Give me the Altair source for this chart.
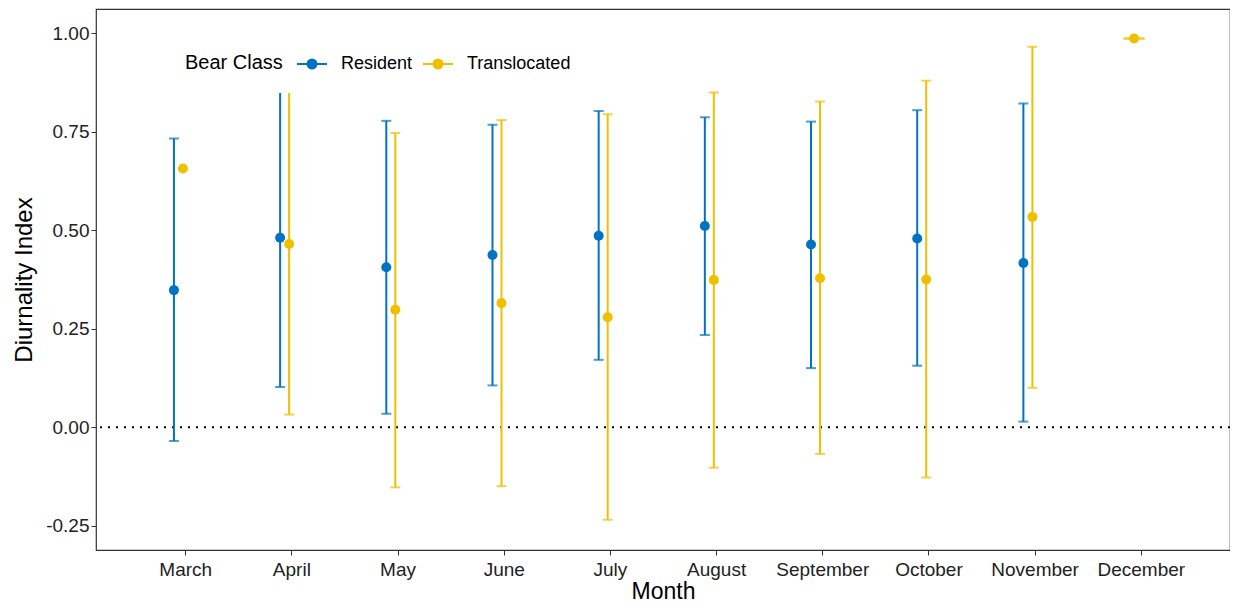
import altair as alt
import pandas as pd

months = ["March", "April", "May", "June", "July", "August",
          "September", "October", "November", "December"]

res_months = months[:9]
res_mean = [0.348, 0.481, 0.406, 0.437, 0.486, 0.511, 0.464, 0.479, 0.417]
res_lo = [-0.035, 0.102, 0.034, 0.106, 0.171, 0.234, 0.150, 0.156, 0.014]
res_hi = [0.733, 0.960, 0.778, 0.768, 0.803, 0.787, 0.776, 0.805, 0.822]

tr_months = months
tr_mean = [0.657, 0.465, 0.298, 0.315, 0.279, 0.374, 0.378, 0.375, 0.534, 0.987]
tr_lo = [None, 0.032, -0.153, -0.150, -0.235, -0.103, -0.068, -0.128, 0.100, 0.987]
tr_hi = [None, 0.960, 0.747, 0.780, 0.795, 0.850, 0.827, 0.880, 0.966, 0.987]

classes = ["Resident", "Translocated"]
colors = ["#0073C2", "#EFC000"]

rows = []
for m, v, lo, hi in zip(res_months, res_mean, res_lo, res_hi):
    rows.append(dict(month=m, cls="Resident", mean=v, lo=lo, hi=hi))
for m, v, lo, hi in zip(tr_months, tr_mean, tr_lo, tr_hi):
    rows.append(dict(month=m, cls="Translocated", mean=v, lo=lo, hi=hi))
df = pd.DataFrame(rows)
counts = df.groupby("month")["cls"].transform("count")
df["dodge"] = [c if n > 1 else "Center" for c, n in zip(df["cls"], counts)]
err = df.dropna(subset=["lo"])

FONT = "Liberation Sans"
xscale = alt.Scale(type="point", domain=months, padding=0.84)
yscale = alt.Scale(domain=[-0.312, 1.062], nice=False, zero=False)
off_scale = alt.Scale(domain=["Resident", "Center", "Translocated"], range=[-13.5, 0, 13.5])
cscale = alt.Scale(domain=classes, range=colors)

X = alt.X("month:N", scale=xscale, sort=months,
          axis=alt.Axis(title="Month", labelAngle=0, labelFontSize=19, titleFontSize=23,
                        titleFontWeight="normal", labelColor="#222", titleColor="#000",
                        domain=False, tickColor="#333", tickSize=5, labelPadding=5,
                        titlePadding=1, labelFont=FONT, titleFont=FONT))
XO = alt.XOffset("dodge:N", scale=off_scale)

def circ(r):
    return f"M{-r},0A{r},{r},0,1,1,{r},0A{r},{r},0,1,1,{-r},0"

sym_path = "M-1,0L1,0" + circ(0.3) + circ(0.1667) + circ(0.0667)

leg = alt.Legend(
    title="Bear Class", orient="none", direction="horizontal",
    titleOrient="left", legendX=69, legendY=19, padding=20,
    fillColor="white", zindex=1,
    titleFontSize=20, titleFontWeight="normal", titleColor="#000",
    titleFont=FONT, labelFont=FONT, labelFontSize=18, labelColor="#000",
    titlePadding=13, labelOffset=13, columnPadding=6,
    titleAnchor="end", titleBaseline="bottom",
    symbolType=sym_path, symbolSize=900, symbolStrokeWidth=2,
)

zero = alt.Chart(pd.DataFrame({"z": [0]})).mark_rule(
    color="black", strokeDash=[2, 6], strokeWidth=2
).encode(y=alt.Y("z:Q", scale=yscale))

bars = alt.Chart(err).mark_rule(strokeWidth=2).encode(
    x=X, xOffset=XO,
    y=alt.Y("lo:Q", scale=yscale), y2="hi:Q",
    color=alt.Color("cls:N", scale=cscale, legend=leg),
)

caps_lo = alt.Chart(err).mark_tick(thickness=2).encode(
    x=X, xOffset=XO,
    y=alt.Y("lo:Q", scale=yscale),
    color=alt.Color("cls:N", scale=cscale, legend=None),
    size=alt.condition(alt.datum.dodge == "Center", alt.value(21), alt.value(10)),
)
caps_hi = alt.Chart(err).mark_tick(thickness=2).encode(
    x=X, xOffset=XO,
    y=alt.Y("hi:Q", scale=yscale),
    color=alt.Color("cls:N", scale=cscale, legend=None),
    size=alt.condition(alt.datum.dodge == "Center", alt.value(21), alt.value(10)),
)

points = alt.Chart(df).mark_point(filled=True, size=100, opacity=1).encode(
    x=X, xOffset=XO,
    y=alt.Y("mean:Q", scale=yscale,
            axis=alt.Axis(title="Diurnality Index", values=[-0.25, 0, 0.25, 0.5, 0.75, 1.0],
                          labelExpr="replace(format(datum.value, '.2f'), '\u2212', '-')",
                          labelFontSize=19, titleFontSize=24, titleFontWeight="normal",
                          labelColor="#222", titleColor="#000", domain=False, grid=False,
                          tickColor="#333", tickSize=5, labelPadding=2, titlePadding=9,
                          labelFont=FONT, titleFont=FONT)),
    color=alt.Color("cls:N", scale=cscale, legend=None),
)

chart = alt.layer(zero, bars, caps_lo, caps_hi, points).properties(
    width=1134, height=541,
    padding={"left": 88, "top": 1, "right": 0, "bottom": 53},
    autosize=alt.AutoSizeParams(type="none"),
).configure_view(stroke="#333", strokeWidth=1.2)

chart.save("out.html", embed_options={"renderer": "svg", "actions": False})
